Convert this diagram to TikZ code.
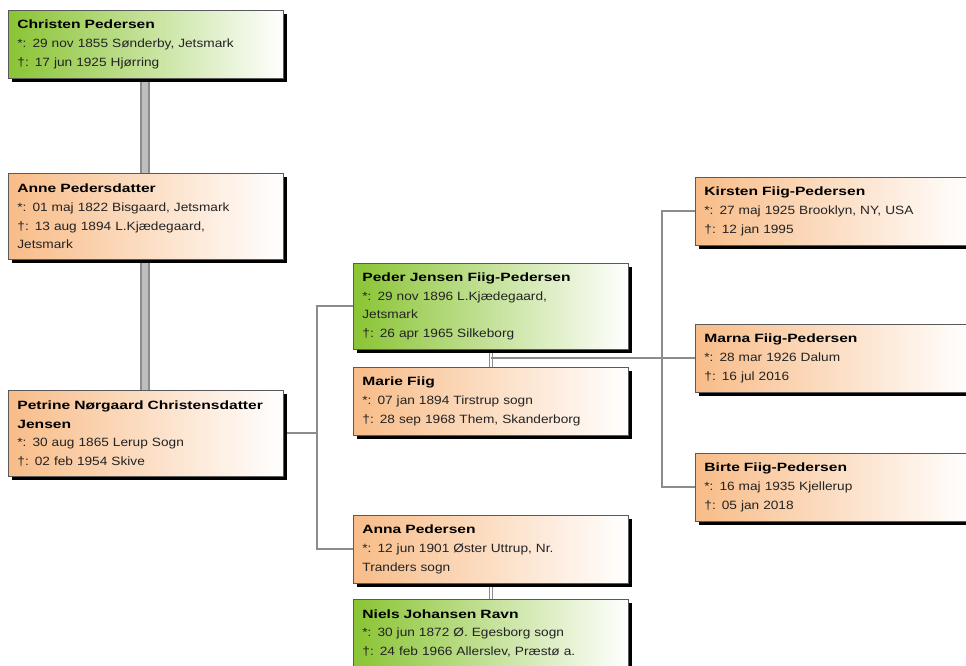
\documentclass[tikz,border=0pt]{standalone}
\usepackage{fontspec}
\setmainfont{Liberation Sans}[FakeStretch=1.14]
\newfontfamily\namefont{Liberation Sans}[FakeStretch=1.3]
\usetikzlibrary{shadows,calc,backgrounds}
\definecolor{pgreen}{RGB}{138,196,52}
\definecolor{porange}{RGB}{248,188,136}
\definecolor{lineg}{RGB}{140,140,140}
\definecolor{linel}{RGB}{190,190,190}
\definecolor{txt}{RGB}{35,35,35}
\newcommand\pname[1]{{\namefont\bfseries\color{black}#1}}
\begin{document}
\begin{tikzpicture}[x=0.75pt,y=-0.75pt,
  person/.style={draw=black!65, line width=0.6pt, anchor=north west,
    text width=192.75pt, inner xsep=6.75pt, inner ysep=0pt, align=left,
    font=\fontsize{9}{14}\selectfont, text=txt,
    drop shadow={shadow xshift=3pt, shadow yshift=-3pt, opacity=1, fill=black}},
  greenbox/.style={person, left color=pgreen, right color=white},
  orangebox/.style={person, left color=porange, right color=white},
  hthree/.style={minimum height=51pt},
  hfour/.style={minimum height=64.5pt},
  conn/.style={draw=lineg, line width=1.4pt},
  genline/.style={draw=lineg, line width=1.5pt, double=linel, double distance=4pt},
  coupleline/.style={draw=lineg, line width=0.9pt, double=white, double distance=1.6pt}
]
\useasboundingbox (0,0) rectangle (966,665);

\node[greenbox, hthree] (christen) at (8,10)
  {\pname{Christen Pedersen}\\ {*}: 29 nov 1855 Sønderby, Jetsmark\\ †: 17 jun 1925 Hjørring};
\node[orangebox, hfour] (anne) at (8,173)
  {\pname{Anne Pedersdatter}\\ {*}: 01 maj 1822 Bisgaard, Jetsmark\\ †: 13 aug 1894 L.Kjædegaard,\\ Jetsmark};
\node[orangebox, hfour] (petrine) at (8,390)
  {\pname{Petrine Nørgaard Christensdatter}\\ \pname{Jensen}\\ {*}: 30 aug 1865 Lerup Sogn\\ †: 02 feb 1954 Skive};

\node[greenbox, hfour] (peder) at (353,263)
  {\pname{Peder Jensen Fiig-Pedersen}\\ {*}: 29 nov 1896 L.Kjædegaard,\\ Jetsmark\\ †: 26 apr 1965 Silkeborg};
\node[orangebox, hthree] (marie) at (353,367)
  {\pname{Marie Fiig}\\ {*}: 07 jan 1894 Tirstrup sogn\\ †: 28 sep 1968 Them, Skanderborg};
\node[orangebox, hthree] (anna) at (353,515)
  {\pname{Anna Pedersen}\\ {*}: 12 jun 1901 Øster Uttrup, Nr.\\ Tranders sogn};
\node[greenbox, hthree] (niels) at (353,599)
  {\pname{Niels Johansen Ravn}\\ {*}: 30 jun 1872 Ø. Egesborg sogn\\ †: 24 feb 1966 Allerslev, Præstø a.};

\node[orangebox, hthree] (kirsten) at (695,177)
  {\pname{Kirsten Fiig-Pedersen}\\ {*}: 27 maj 1925 Brooklyn, NY, USA\\ †: 12 jan 1995};
\node[orangebox, hthree] (marna) at (695,324)
  {\pname{Marna Fiig-Pedersen}\\ {*}: 28 mar 1926 Dalum\\ †: 16 jul 2016};
\node[orangebox, hthree] (birte) at (695,453)
  {\pname{Birte Fiig-Pedersen}\\ {*}: 16 maj 1935 Kjellerup\\ †: 05 jan 2018};

\begin{scope}[on background layer]
  \fill[white] (0,0) rectangle (966,665);
  \draw[genline] (christen.south -| 145,0) -- (anne.north -| 145,0);
  \draw[genline] (anne.south -| 145,0) -- (petrine.north -| 145,0);
  \draw[conn] (petrine.east) -- ++(33,0) coordinate (j1);
  \draw[conn] (peder.west) -| (j1) |- (anna.west);
  \draw[coupleline] (peder.south) -- (marie.north);
  \draw[coupleline] (anna.south) -- (niels.north);
  \coordinate (m1) at ($(peder.south)!0.5!(marie.north)$);
  \draw[conn] (m1) -- (marna.west);
  \coordinate (j2) at (662,358);
  \draw[conn] (kirsten.west) -| (j2) |- (birte.west);
\end{scope}
\end{tikzpicture}
\end{document}
